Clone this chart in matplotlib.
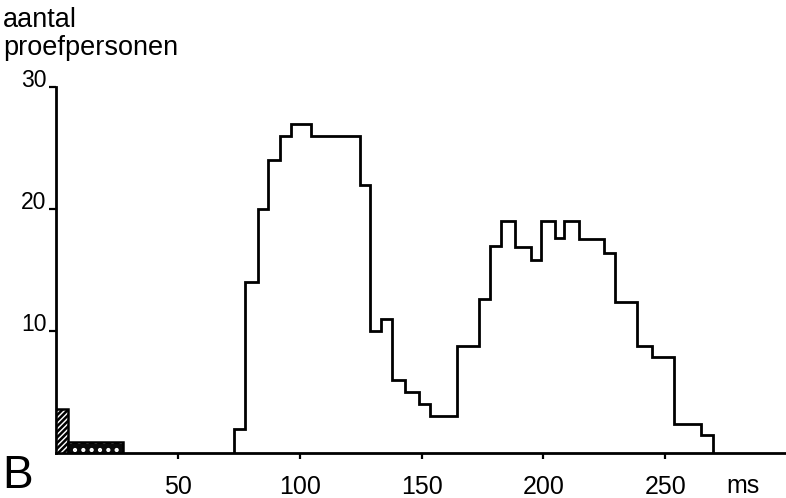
import matplotlib
matplotlib.use("Agg")
import matplotlib.pyplot as plt

# ---- data ----
edges_ms = [73.1, 77.6, 82.8, 86.8, 91.7, 96.4, 104.7, 124.9, 128.8, 133.3,
            137.9, 143.2, 148.9, 153.4, 164.4, 173.4, 177.9, 182.4, 188.4,
            194.9, 199.1, 204.8, 208.3, 214.7, 224.9, 229.2, 238.2, 244.5,
            253.4, 264.7, 269.7]
counts = [2, 14, 20, 24, 26, 27, 26, 22, 10, 11,
          6, 5, 4, 3, 8.8, 12.6, 17, 19, 16.9,
          15.8, 19, 17.6, 19, 17.5, 16.4, 12.4, 8.8, 7.9,
          2.4, 1.5]
hatched_bar = (0, 5, 3.6)      # start ms, width ms, height
dotted_bar = (5, 22.5, 0.9)
xticks = [50, 100, 150, 200, 250]
yticks = [10, 20, 30]

plt.rcParams['font.family'] = ['Liberation Sans', 'DejaVu Sans']
plt.rcParams['hatch.linewidth'] = 1.8

W, H = 786, 498
fig = plt.figure(figsize=(W / 100, H / 100), dpi=100)
left = 56 / W
bottom = (H - 453) / H
top = (H - 87) / H
ax = fig.add_axes([left, bottom, 1 - left, top - bottom])

ax.stairs(counts, edges_ms, baseline=0, color='black', lw=2.0)

ax.bar(hatched_bar[0], hatched_bar[2], width=hatched_bar[1], align='edge',
       facecolor='white', edgecolor='black', hatch='//////', lw=1.8, zorder=3)
ax.bar(dotted_bar[0], dotted_bar[2], width=dotted_bar[1], align='edge',
       facecolor='#0a0a0a', edgecolor='white', hatch='..', lw=0, zorder=3)
ax.bar(dotted_bar[0], dotted_bar[2], width=dotted_bar[1], align='edge',
       facecolor='none', edgecolor='black', lw=1.8, zorder=4)

ax.set_xlim(0, 299.5)
ax.set_ylim(0, 30)
for s in ['top', 'right']:
    ax.spines[s].set_visible(False)
for s in ['left', 'bottom']:
    ax.spines[s].set_linewidth(2.0)
ax.spines['left'].set_bounds(0, 30)

ax.set_xticks(xticks)
ax.set_xticklabels([str(v) for v in xticks], fontsize=18)
ax.set_yticks(yticks)
ax.set_yticklabels([str(v) for v in yticks], fontsize=16.5)
ax.tick_params(axis='x', direction='out', length=4, width=1.6, pad=12)
ax.tick_params(axis='y', direction='out', length=5, width=1.6, pad=2)
for lab in ax.get_yticklabels():
    lab.set_verticalalignment('baseline')

fig.text(3 / W, 1 - 27 / H, 'aantal', fontsize=19.5, va='baseline', ha='left')
fig.text(3 / W, 1 - 55 / H, 'proefpersonen', fontsize=19.5, va='baseline', ha='left')
fig.text(2 / W, 0.5 / H, 'B', fontsize=33, va='bottom', ha='left')
fig.text(726 / W, 0.5 / H, 'ms', fontsize=18, va='bottom', ha='left')

fig.savefig('out.png', dpi=100)
